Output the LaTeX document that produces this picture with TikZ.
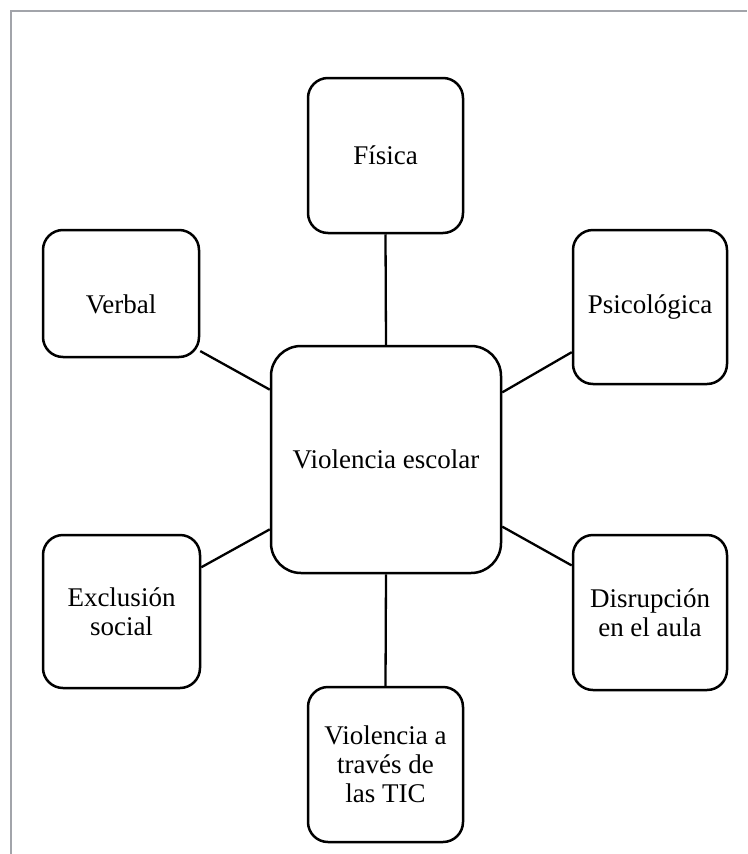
\documentclass[tikz,border=0pt]{standalone}
\usepackage{fontspec}
\setmainfont{Liberation Serif}
\definecolor{framegray}{RGB}{162,164,170}
\begin{document}
\begin{tikzpicture}[x=1pt,y=-1pt,
  boxbase/.style={draw, line width=2.5pt, rounded corners=20pt,
    font=\fontsize{27}{29}\selectfont, inner sep=0pt},
  box/.style={boxbase, align=center},
  link/.style={line width=2.3pt}]
\useasboundingbox (0,0) rectangle (747,854);
\draw[framegray, line width=1.6pt] (11,854) -- (11,11) -- (747,11);

\node[box, minimum width=155pt, minimum height=155pt] (fisica) at (385.5,155.5) {Física};
\node[boxbase, minimum width=156pt, minimum height=127pt, text height=39pt, text depth=0pt] (verbal) at (121,293.5) {Verbal};
\node[box, minimum width=154pt, minimum height=154pt] (psico) at (650,307) {Psicológica};
\node[box, minimum width=157pt, minimum height=153pt] (excl) at (121.5,611.5) {Exclusión\\social};
\node[box, minimum width=154pt, minimum height=155pt] (disr) at (650,612.5) {Disrupción\\en el aula};
\node[box, minimum width=155pt, minimum height=155pt] (tic) at (385.5,764.5) {Violencia a\\través de\\las TIC};
\node[box, minimum width=230pt, minimum height=227pt, rounded corners=30pt] (centro) at (386,459.5) {Violencia escolar};

\draw[link] (fisica.south) -- (centro.north);
\draw[link] (tic.north) -- (centro.south);
\draw[link] (verbal.-36.4) -- (centro.149.6);
\draw[link] (psico.-150.3) -- (centro.30.4);
\draw[link] (excl.29.5) -- (centro.-149.6);
\draw[link] (disr.149.4) -- (centro.-30.4);
\end{tikzpicture}
\end{document}
